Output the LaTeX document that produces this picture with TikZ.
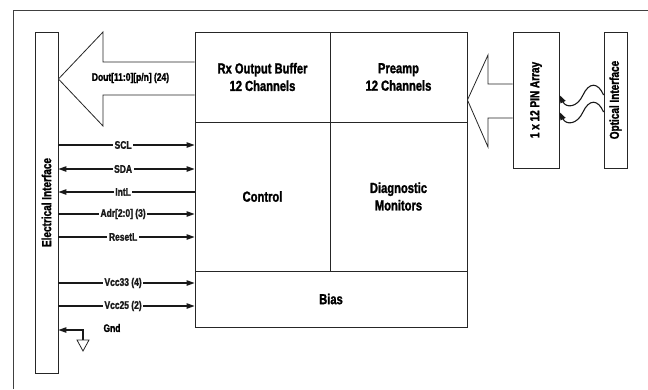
\documentclass[tikz,border=0pt]{standalone}
\usepackage{fontspec}
\setmainfont{Liberation Sans}[FakeStretch=0.77,BoldFeatures={FakeBold=1.6}]
\usetikzlibrary{arrows.meta}
\begin{document}
\begin{tikzpicture}[x=1pt,y=-1pt,font=\bfseries,
  box/.style={draw=black!85,line width=0.9pt,inner sep=0pt,align=center,font=\bfseries\fontsize{14.5}{17.5}\selectfont},
  tall/.style={draw=black!85,line width=0.9pt,inner sep=0pt},
  vlabel/.style={rotate=90,font=\bfseries\fontsize{13}{15}\selectfont},
  sig/.style={line width=1.1pt,black!90},
  tip/.style={-{Triangle[length=8pt,width=5.5pt]}},
  sigl/.style={fill=white,inner sep=1.5pt,font=\bfseries\fontsize{11}{13}\selectfont},
  bigarrow/.style={draw=black!85,line width=0.8pt,fill=white,line join=miter},
  frame/.style={draw=black!75,line width=0.9pt}]
\useasboundingbox (0,0) rectangle (648,389);
\draw[frame] (13,389) -- (13,10) -- (648,10);
% boxes
\node[tall,minimum width=23pt,minimum height=341pt] (ei) at (46.5,202.5) {};
\node[vlabel] (eit) at (ei.center) {Electrical Interface};
\node[box,minimum width=135pt,minimum height=90pt] (rx) at (262.5,77) {Rx Output Buffer\\12 Channels};
\node[box,minimum width=137pt,minimum height=90pt] (pre) at (398.5,77) {Preamp\\12 Channels};
\node[box,minimum width=135pt,minimum height=149pt] (ctl) at (262.5,196.5) {Control};
\node[box,minimum width=137pt,minimum height=149pt] (diag) at (398.5,196.5) {Diagnostic\\Monitors};
\node[box,minimum width=272pt,minimum height=56pt] (bias) at (331,299) {Bias};
\node[tall,minimum width=46pt,minimum height=136pt] (pin) at (536,100) {};
\node[vlabel] (pint) at (pin.center) {1 x 12 PIN Array};
\node[tall,minimum width=23pt,minimum height=136pt] (opt) at (615.5,100) {};
\node[vlabel] (optt) at (opt.center) {Optical Interface};
% big arrows
\draw[bigarrow] (rx.west |- 0,62) -- (103,62) -- (103,32) -- (ei.east |- 0,79) -- (103,126) -- (103,95) -- (rx.west |- 0,95);
\node[font=\bfseries\fontsize{11}{13}\selectfont] (dout) at (130.5,78) {Dout[11:0][p/n] (24)};
\draw[bigarrow] (pin.west |- 0,84) -- (488,84) -- (488,55) -- (pre.east |- 0,100) -- (488,147) -- (488,118) -- (pin.west |- 0,118);
% optical waves
\draw[sig,tip] (opt.west |- 0,95) .. controls (598,82) and (589,82) .. (583,95) .. controls (577,108) and (566,108) .. (pin.east |- 0,95);
\draw[sig,tip] (opt.west |- 0,112) .. controls (598,99) and (589,99) .. (583,112) .. controls (577,125) and (566,125) .. (pin.east |- 0,112);
% signals
\draw[sig,tip] (ei.east |- 0,145) -- node[sigl,pos=0.475] {SCL} (ctl.west |- 0,145);
\draw[sig,{Triangle[length=8pt,width=5.5pt]}-{Triangle[length=8pt,width=5.5pt]}] (ei.east |- 0,169) -- node[sigl,pos=0.475] {SDA} (ctl.west |- 0,169);
\draw[sig,tip] (ctl.west |- 0,192) -- node[sigl,pos=0.525] {IntL} (ei.east |- 0,192);
\draw[sig,tip] (ei.east |- 0,214) -- node[sigl,pos=0.475] {Adr[2:0] (3)} (ctl.west |- 0,214);
\draw[sig,tip] (ei.east |- 0,237) -- node[sigl,pos=0.475] {ResetL} (ctl.west |- 0,237);
\draw[sig,tip] (ei.east |- 0,283) -- node[sigl,pos=0.475] {Vcc33 (4)} (bias.west |- 0,283);
\draw[sig,tip] (ei.east |- 0,306) -- node[sigl,pos=0.475] {Vcc25 (2)} (bias.west |- 0,306);
% ground
\coordinate (g1) at (83,330);
\coordinate (g2) at (83,340);
\draw[sig,tip] (g2) -- (g1) -- (ei.east |- g1);
\draw[line width=0.8pt,black!85] (77,340) -- (89,340) -- (83,351) -- cycle;
\node[sigl,fill=none] (gnd) at (112,328) {Gnd};
\end{tikzpicture}
\end{document}
